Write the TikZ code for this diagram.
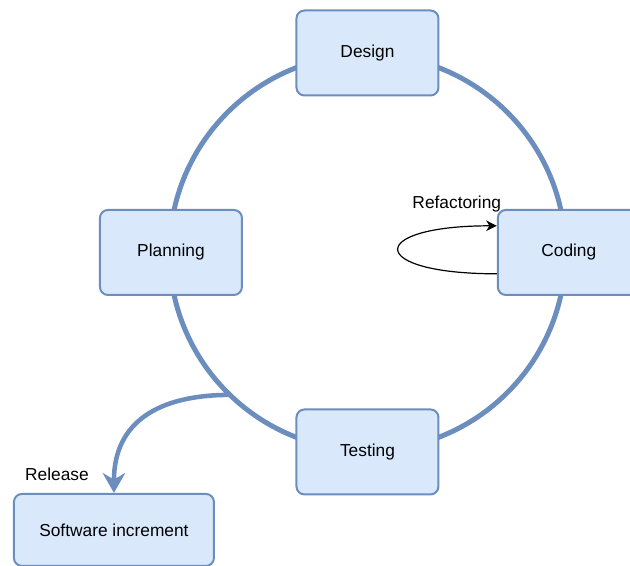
\documentclass[tikz,border=0pt]{standalone}
\usepackage{fontspec}
\setmainfont{Liberation Sans}
\usetikzlibrary{arrows.meta}
\definecolor{phasefill}{HTML}{DAE8FC}
\definecolor{phaseline}{HTML}{6C8EBF}
\tikzset{
    phase/.style={draw=phaseline, fill=phasefill, line width=1.5pt, rounded corners=6pt,
        minimum width=106.5pt, minimum height=63.75pt, font=\fontsize{13}{15}\selectfont},
    tag/.style={font=\fontsize{13}{15}\selectfont}
}

\begin{document}
\begin{tikzpicture}
      \useasboundingbox (0pt,0pt) rectangle (472.5pt,423.75pt);
      \coordinate (c) at (275.6pt,234.4pt);
      % the cycle itself
      \draw[phaseline, line width=3.75pt] (c) circle[radius=148.5pt];

      \node[phase] (design) at ([yshift=149.6pt]c) {Design};
      \node[phase] (coding) at ([xshift=151pt]c) {Coding};
      \node[phase] (testing) at ([yshift=-149.6pt]c) {Testing};
      \node[phase] (planning) at ([xshift=-147.4pt]c) {Planning};
      \node[phase, minimum width=150pt, minimum height=54pt] (increment) at ([shift={(-42.75pt,-208.1pt)}]planning) {Software increment};

      \node[tag] (refactor) at ([shift={(-84pt,36pt)}]coding) {Refactoring};
      \node[tag] (release) at ([shift={(-42.75pt,42pt)}]increment) {Release};

      \coordinate (exit) at ([shift={(226:148.5pt)}]c);
      \coordinate (loop out) at ([yshift=-16pt]coding.west);
      \coordinate (loop in) at ([yshift=20pt]coding.west);

      \draw[phaseline, line width=3.4pt, -{Stealth[length=15pt, width=17pt, inset=5pt]}]
        (exit) to[out=180, in=90, looseness=1.2] (increment.north);
      \draw[line width=0.9pt, -{Stealth[length=8pt, width=8pt, inset=2.5pt]}]
        (loop out) to[out=180, in=180, looseness=7] (loop in);
\end{tikzpicture}
\end{document}
